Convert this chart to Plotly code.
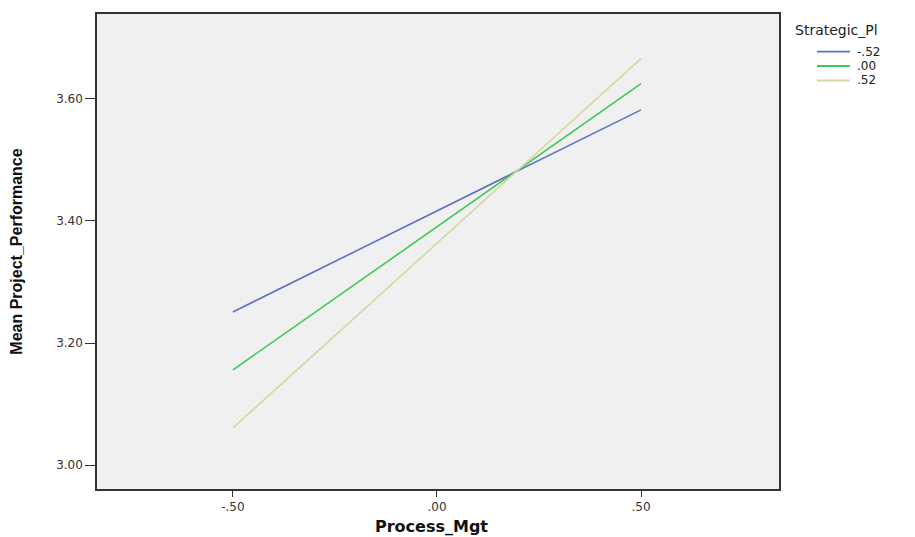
import plotly.graph_objects as go

process_mgt = [-0.5, 0.5]
strategic_levels = ["-.52", ".00", ".52"]
mean_perf = {
    "-.52": [3.251, 3.582],
    ".00": [3.156, 3.625],
    ".52": [3.061, 3.666],
}
colors = {"-.52": "#5d72c2", ".00": "#3fc853", ".52": "#d9d5a2"}

x_ticks = [-0.5, 0.0, 0.5]
x_ticklabels = ["-.50", ".00", ".50"]
y_ticks = [3.0, 3.2, 3.4, 3.6]
y_ticklabels = ["3.00", "3.20", "3.40", "3.60"]

legend_title = "Strategic_Pl"

fig = go.Figure()
for lvl in strategic_levels:
    fig.add_trace(go.Scatter(
        x=process_mgt, y=mean_perf[lvl], mode="lines", name=lvl,
        line=dict(color=colors[lvl], width=1.6), showlegend=False,
    ))

# Legend built in paper coordinates (plot area spans 682 x 475 px)
annotations = [dict(text=legend_title, xref="paper", yref="paper",
                    x=1.0205, y=0.966, xanchor="left", yanchor="middle",
                    showarrow=False, font=dict(size=14, color="#222",
                                               family="DejaVu Sans, sans-serif"))]
shapes = []
for i, lvl in enumerate(strategic_levels):
    yy = 0.921 - i * 0.0305
    shapes.append(dict(type="line", xref="paper", yref="paper",
                       x0=1.0557, x1=1.1041, y0=yy, y1=yy,
                       line=dict(color=colors[lvl], width=1.8)))
    annotations.append(dict(text=lvl, xref="paper", yref="paper",
                            x=1.1114, y=yy, xanchor="left", yanchor="middle",
                            showarrow=False, font=dict(size=12, color="#222",
                                                       family="DejaVu Sans, sans-serif")))

annotations.append(dict(text="<b>Process_Mgt</b>", xref="paper", yref="paper",
                        x=0.49, y=-0.0779, xanchor="center", yanchor="middle",
                        showarrow=False, font=dict(size=16, color="#111",
                                                   family="DejaVu Sans, sans-serif")))

fig.update_layout(
    width=915, height=537,
    margin=dict(l=89, r=144, t=6, b=56, autoexpand=False),
    plot_bgcolor="#f0f0f0", paper_bgcolor="white",
    font=dict(family="DejaVu Sans, sans-serif", color="#222"),
    showlegend=False,
    annotations=annotations,
    shapes=shapes,
)
fig.update_xaxes(
    range=[-0.833, 0.838], tickvals=x_ticks, ticktext=x_ticklabels,
    showgrid=False, zeroline=False, showline=True, linecolor="#333", linewidth=1.5,
    mirror=True, ticks="outside", ticklen=6, tickcolor="#333",
    tickfont=dict(size=12, color="#333"),
)
fig.update_yaxes(
    range=[2.961, 3.739], tickvals=y_ticks, ticktext=y_ticklabels,
    showgrid=False, zeroline=False, showline=True, linecolor="#333", linewidth=1.5,
    mirror=True, ticks="outside", ticklen=10, tickcolor="#333",
    tickfont=dict(size=12, color="#333"),
    title=dict(text="<b>Mean Project_Performance</b>",
               font=dict(size=16, color="#111", family="Liberation Sans Narrow, Arial Narrow, sans-serif"),
               standoff=32),
)
fig.write_html("out.html")
